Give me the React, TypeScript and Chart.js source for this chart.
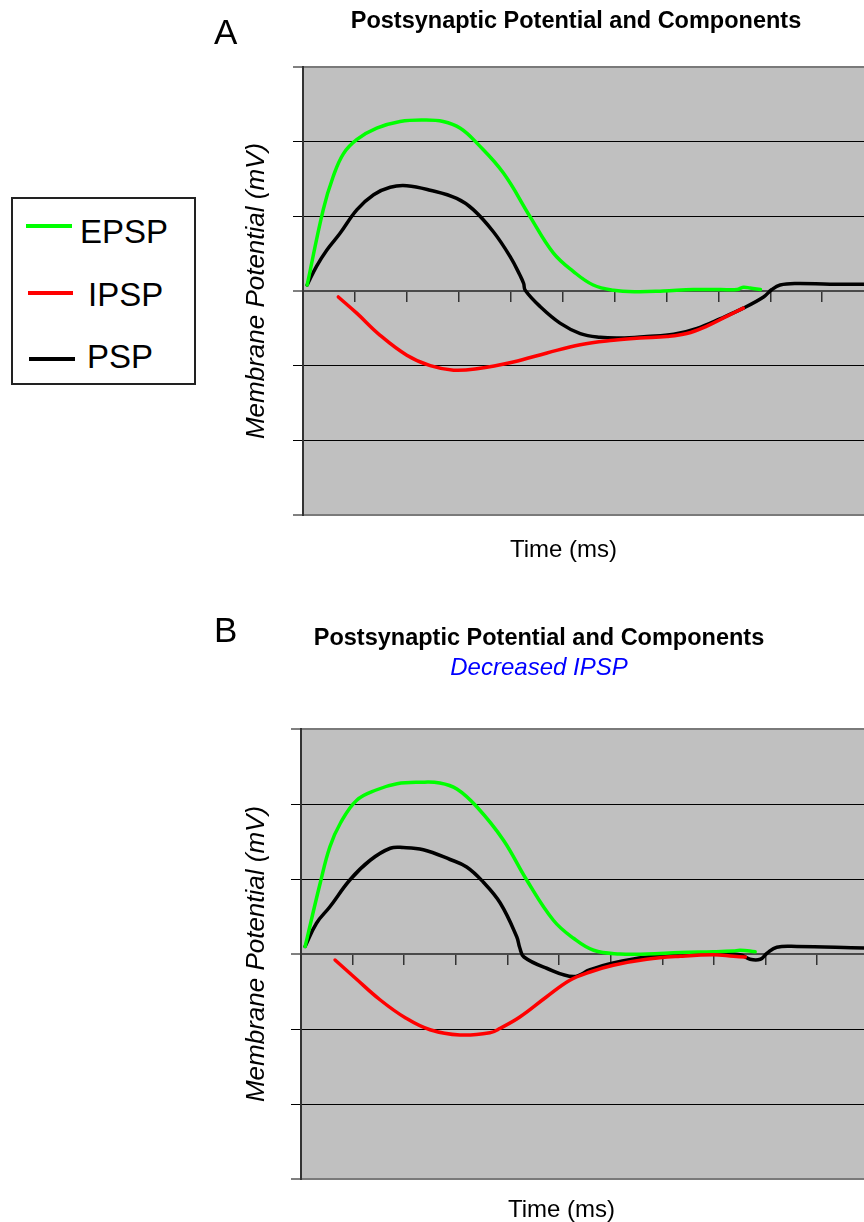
import React, { useEffect, useRef } from "react";
import { Chart, registerables } from "chart.js";

Chart.register(...registerables);

const FONT = "'Liberation Sans', Arial, Helvetica, sans-serif";

const TITLE = "Postsynaptic Potential and Components";
const SUBTITLE_B = "Decreased IPSP";
const Y_TITLE = "Membrane Potential (mV)";
const X_TITLE = "Time (ms)";
const PANEL_LABELS = ["A", "B"];
const LEGEND_LABELS = ["EPSP", "IPSP", "PSP"];
const SERIES_COLORS = ["#00FF00", "#FF0000", "#000000"];

const Y_MIN = -3;
const Y_MAX = 3;
const X_STEP = 1;

// Panel A
const EPSP_A_T = [0.08, 0.39, 0.58, 0.78, 1.04, 1.42, 1.87, 2.32, 2.7, 3.03, 3.35, 3.86, 4.37, 4.82, 5.21, 5.59, 5.98, 6.43, 6.94, 7.52, 8.04, 8.36, 8.48, 8.61, 8.81];
const EPSP_A_V = [0.08, 1.09, 1.53, 1.84, 2.03, 2.18, 2.27, 2.29, 2.27, 2.18, 1.98, 1.58, 1.0, 0.51, 0.26, 0.08, 0.01, -0.01, 0.0, 0.02, 0.02, 0.02, 0.05, 0.04, 0.02];
const IPSP_A_T = [0.68, 1.04, 1.48, 2.0, 2.45, 2.9, 3.35, 4.05, 4.7, 5.34, 5.98, 6.49, 7.01, 7.39, 7.78, 8.16, 8.48];
const IPSP_A_V = [-0.08, -0.3, -0.59, -0.86, -1.0, -1.06, -1.04, -0.95, -0.83, -0.72, -0.66, -0.63, -0.61, -0.57, -0.47, -0.34, -0.23];
const PSP_A_T = [0.08, 0.26, 0.46, 0.71, 1.04, 1.36, 1.68, 2.0, 2.45, 2.96, 3.28, 3.67, 3.99, 4.18, 4.25, 4.28, 4.57, 4.95, 5.34, 5.72, 6.11, 6.62, 7.14, 7.59, 8.04, 8.48, 8.87, 9.03, 9.19, 9.51, 10.15, 10.81, 12.5];
const PSP_A_V = [0.08, 0.33, 0.55, 0.77, 1.09, 1.29, 1.39, 1.41, 1.35, 1.24, 1.09, 0.79, 0.46, 0.21, 0.1, 0.01, -0.21, -0.43, -0.57, -0.62, -0.63, -0.61, -0.58, -0.5, -0.37, -0.23, -0.08, 0.02, 0.08, 0.1, 0.09, 0.09, 0.09];

// Panel B (decreased IPSP)
const EPSP_B_T = [0.08, 0.37, 0.56, 0.76, 1.08, 1.47, 1.86, 2.31, 2.69, 3.02, 3.41, 3.92, 4.37, 4.89, 5.28, 5.67, 6.18, 6.7, 7.35, 7.99, 8.38, 8.51, 8.8];
const EPSP_B_V = [0.1, 0.94, 1.43, 1.74, 2.05, 2.19, 2.27, 2.29, 2.28, 2.2, 1.96, 1.52, 0.99, 0.45, 0.21, 0.05, 0.0, 0.0, 0.02, 0.03, 0.04, 0.05, 0.03];
const IPSP_B_T = [0.66, 1.05, 1.53, 2.02, 2.5, 3.08, 3.66, 3.86, 4.24, 4.76, 5.21, 5.6, 6.05, 6.7, 7.35, 7.99, 8.38, 8.61];
const IPSP_B_V = [-0.08, -0.32, -0.61, -0.85, -1.01, -1.08, -1.05, -0.99, -0.84, -0.57, -0.35, -0.24, -0.15, -0.07, -0.03, -0.01, -0.03, -0.04];
const PSP_B_T = [0.08, 0.3, 0.56, 0.95, 1.34, 1.73, 1.98, 2.37, 2.89, 3.21, 3.53, 3.86, 4.18, 4.24, 4.32, 4.76, 5.28, 5.6, 6.05, 6.7, 7.35, 7.99, 8.51, 8.7, 8.9, 9.03, 9.22, 9.61, 10.91, 11.2];
const PSP_B_V = [0.1, 0.41, 0.63, 0.99, 1.25, 1.41, 1.42, 1.39, 1.26, 1.16, 0.96, 0.68, 0.23, 0.08, -0.04, -0.19, -0.3, -0.21, -0.12, -0.04, -0.01, 0.0, -0.01, -0.07, -0.07, 0.01, 0.09, 0.1, 0.08, 0.08];

const zip = (t: number[], v: number[]) => t.map((x, i) => ({ x, y: v[i] }));

const plotBg = {
  id: "plotBg",
  beforeDraw(chart: any) {
    const { ctx, chartArea: a } = chart;
    ctx.save();
    ctx.fillStyle = "#C0C0C0";
    ctx.fillRect(a.left, a.top, a.right - a.left, a.bottom - a.top);
    ctx.restore();
  },
};

type PanelCfg = {
  left: number;
  top: number;
  width: number;
  height: number;
  xMax: number;
  yWidth: number;
  padBottom: number;
  titlePad: { top: number; bottom: number };
  subtitle?: string;
  subPad?: { top: number; bottom: number };
  epsp: { x: number; y: number }[];
  ipsp: { x: number; y: number }[];
  psp: { x: number; y: number }[];
};

function buildConfig(c: PanelCfg): any {
  const gridColor = (ctx: any) => {
    const v = ctx.tick ? ctx.tick.value : 0;
    if (v === Y_MAX || v === Y_MIN) return "#7a7a7a";
    if (v === 0) return "#4a4a4a";
    return "#000000";
  };
  const gridWidth = (ctx: any) => {
    const v = ctx.tick ? ctx.tick.value : 0;
    if (v === Y_MAX || v === Y_MIN || v === 0) return 2;
    return 1;
  };
  return {
    type: "line",
    data: {
      datasets: [
        { label: LEGEND_LABELS[0], data: c.epsp, borderColor: SERIES_COLORS[0], order: 1 },
        { label: LEGEND_LABELS[1], data: c.ipsp, borderColor: SERIES_COLORS[1], order: 0 },
        { label: LEGEND_LABELS[2], data: c.psp, borderColor: SERIES_COLORS[2], order: 2 },
      ],
    },
    plugins: [plotBg],
    options: {
      animation: false,
      responsive: false,
      maintainAspectRatio: false,
      events: [],
      layout: { padding: { left: 0, right: 0, top: 0, bottom: c.padBottom } },
      elements: {
        point: { radius: 0 },
        line: { borderWidth: 3.5, tension: 0.4, fill: false, borderCapStyle: "round", borderJoinStyle: "round" },
      },
      plugins: {
        legend: { display: false },
        tooltip: { enabled: false },
        title: {
          display: true,
          text: TITLE,
          color: "#000000",
          font: { family: FONT, size: 23.5, weight: "bold", lineHeight: 1.2 },
          padding: c.titlePad,
        },
        subtitle: {
          display: !!c.subtitle,
          text: c.subtitle || "",
          color: "#0000FF",
          font: { family: FONT, size: 24, style: "italic", weight: "normal", lineHeight: 1.2 },
          padding: c.subPad || { top: 0, bottom: 0 },
        },
      },
      scales: {
        x: {
          type: "linear",
          min: 0,
          max: c.xMax,
          position: { y: 0 },
          ticks: { display: false, stepSize: X_STEP, includeBounds: false },
          grid: { drawOnChartArea: false, drawTicks: true, tickLength: 10, color: "#333333", lineWidth: 1.5 },
          border: { display: true, color: "#4a4a4a", width: 2 },
        },
        y: {
          type: "linear",
          min: Y_MIN,
          max: Y_MAX,
          position: "left",
          afterFit: (s: any) => {
            s.width = c.yWidth;
          },
          ticks: { display: false, stepSize: 1 },
          grid: {
            color: gridColor,
            lineWidth: gridWidth,
            drawTicks: true,
            tickLength: 10,
            tickColor: "#000000",
            tickWidth: 1,
          },
          border: { display: true, color: "#333333", width: 2 },
          title: {
            display: true,
            text: Y_TITLE,
            color: "#000000",
            font: { family: FONT, size: 26, style: "italic", lineHeight: 1.2 },
            padding: { top: 41.4, bottom: 0 },
          },
        },
      },
    },
  };
}

function Panel({ cfg }: { cfg: PanelCfg }) {
  const ref = useRef<HTMLCanvasElement>(null);
  useEffect(() => {
    const chart = new Chart(ref.current as HTMLCanvasElement, buildConfig(cfg));
    return () => chart.destroy();
  }, []);
  return (
    <canvas
      ref={ref}
      width={cfg.width}
      height={cfg.height}
      style={{ position: "absolute", left: cfg.left, top: cfg.top, width: cfg.width, height: cfg.height, display: "block" }}
    />
  );
}

const PANEL_A: PanelCfg = {
  left: 200,
  top: 0,
  width: 752,
  height: 570,
  xMax: 12.5,
  yWidth: 103,
  padBottom: 55,
  titlePad: { top: 7, bottom: 31.8 },
  epsp: zip(EPSP_A_T, EPSP_A_V),
  ipsp: zip(IPSP_A_T, IPSP_A_V),
  psp: zip(PSP_A_T, PSP_A_V),
};

const PANEL_B: PanelCfg = {
  left: 200,
  top: 600,
  width: 678,
  height: 622,
  xMax: 11.18,
  yWidth: 101,
  padBottom: 43,
  titlePad: { top: 24, bottom: 0 },
  subtitle: SUBTITLE_B,
  subPad: { top: 1.5, bottom: 46.5 },
  epsp: zip(EPSP_B_T, EPSP_B_V),
  ipsp: zip(IPSP_B_T, IPSP_B_V),
  psp: zip(PSP_B_T, PSP_B_V),
};

const abs = (left: number, top: number, extra: React.CSSProperties = {}): React.CSSProperties => ({
  position: "absolute",
  left,
  top,
  lineHeight: 1,
  whiteSpace: "nowrap",
  ...extra,
});

export default function App() {
  const legendRows = [
    { line: [26, 72, 226], text: [80, 215] },
    { line: [28, 73, 293], text: [88, 278] },
    { line: [29, 75, 359], text: [87, 340] },
  ];
  return (
    <div
      style={{
        position: "absolute",
        left: 0,
        top: 0,
        width: 864,
        height: 1222,
        overflow: "hidden",
        background: "#ffffff",
        fontFamily: FONT,
        color: "#000",
      }}
    >
      <Panel cfg={PANEL_A} />
      <Panel cfg={PANEL_B} />
      <div style={abs(214, 14, { fontSize: 35 })}>{PANEL_LABELS[0]}</div>
      <div style={abs(214, 612, { fontSize: 35 })}>{PANEL_LABELS[1]}</div>
      <div style={abs(510, 537, { fontSize: 24 })}>{X_TITLE}</div>
      <div style={abs(508, 1197, { fontSize: 24 })}>{X_TITLE}</div>
      <div
        style={{
          position: "absolute",
          left: 11,
          top: 197,
          width: 185,
          height: 188,
          border: "2px solid #222",
          boxSizing: "border-box",
        }}
      />
      {legendRows.map((r, i) => (
        <React.Fragment key={LEGEND_LABELS[i]}>
          <div
            style={{
              position: "absolute",
              left: r.line[0],
              top: r.line[2] - 2,
              width: r.line[1] - r.line[0],
              height: 4,
              background: SERIES_COLORS[i],
            }}
          />
          <div style={abs(r.text[0], r.text[1], { fontSize: 33 })}>{LEGEND_LABELS[i]}</div>
        </React.Fragment>
      ))}
    </div>
  );
}
